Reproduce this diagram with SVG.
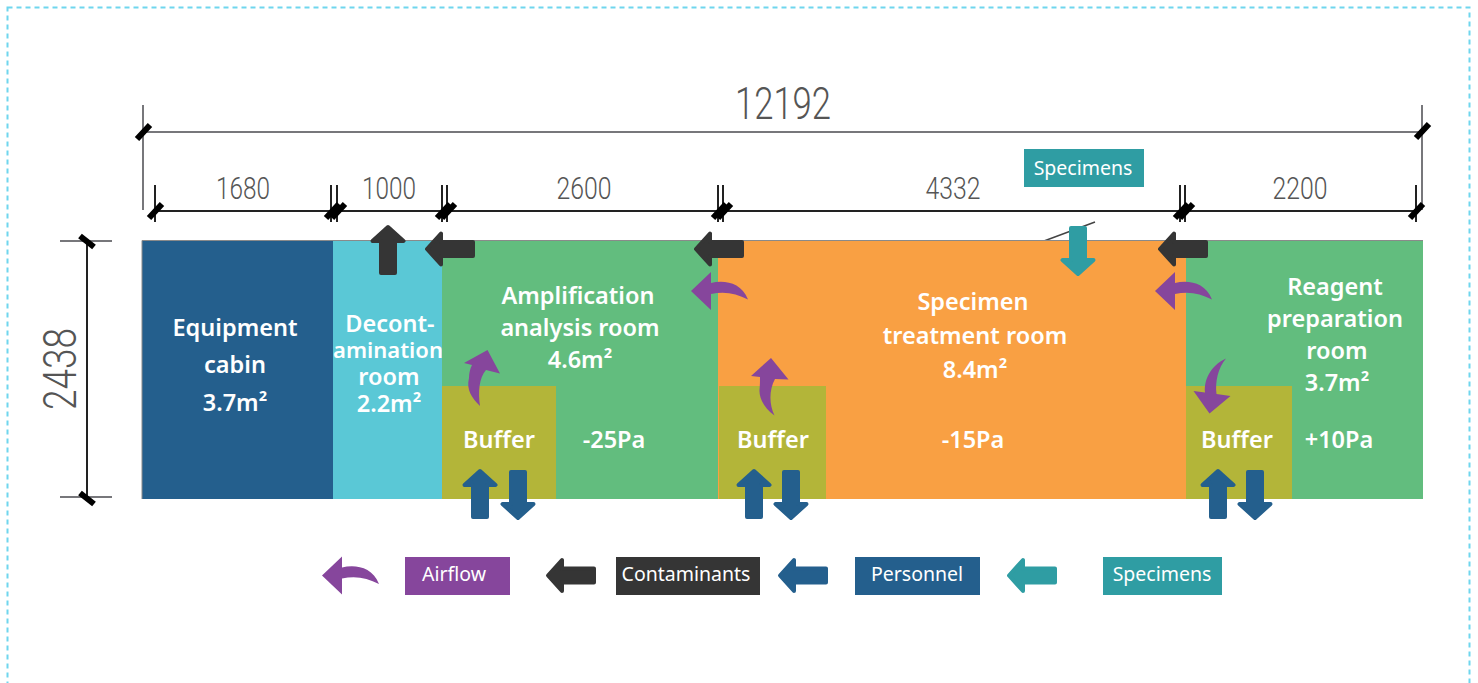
<svg xmlns="http://www.w3.org/2000/svg" width="1478" height="683" viewBox="0 0 1478 683">
<style>
.t{font-family:"Noto Sans",Lato,sans-serif;fill:#fff;text-anchor:middle}
.r{font-size:23.500px;font-weight:600}
.n{font-size:22px;font-weight:600}
.l{font-size:19.500px;font-weight:400}
.d{font-family:Roboto,"Liberation Sans",sans-serif;font-weight:300;fill:#555;text-anchor:middle}
.g{stroke:#77777b;stroke-width:2;fill:none}
.k{stroke:#222;stroke-width:2;fill:none}
.s{stroke:#000;stroke-width:6;fill:none}
.dark{fill:#353535;stroke:#353535}
.blue{fill:#245f8d;stroke:#245f8d}
.teal{fill:#2f9da3;stroke:#2f9da3}
.ar{stroke-width:4;stroke-linejoin:round}
.pu{fill:#86469c}
</style>
<defs>
<path id="a" d="M2,0 L16,-15.500 V-7 H48 V7 H16 V15.500 Z"/>
<path id="c" d="M0,0 L20,-19 V-8 C33,-11 50,-9 57,8.500 C45,2 33,0 20,3 V19 Z"/>
</defs>
<rect x="7.500" y="7.500" width="1462" height="700" fill="none" stroke="#6fd6ee" stroke-width="2" stroke-dasharray="5 4"/>
<g id="dimensions">
<path class="g" d="M143,105V210M1422,105V210M143,132H1422M60,241H112M60,497H112"/>
<path class="k" d="M155,211H1416M155,185V222M331,185V222M337,185V222M442,185V222M447,185V222M718,185V222M723,185V222M1180,185V222M1185,185V222M1416,185V222M87,241V497"/>
<path class="s" d="M137,139L150,125M1416,138L1429,124M149,218L162,204M326,218L339,204M332,218L345,204M437,218L450,204M442,218L455,204M713,218L726,204M718,218L731,204M1175,218L1188,204M1180,218L1193,204M1410,218L1423,204M80,236L94,247M80,493L94,504"/>
<path d="M1044,241L1095,222M1044,241H1097" stroke="#444" stroke-width="1.500" fill="none"/>
<text class="d" x="783" y="119" font-size="44" textLength="96" lengthAdjust="spacingAndGlyphs">12192</text>
<text class="d" x="243" y="199" font-size="32" textLength="54" lengthAdjust="spacingAndGlyphs">1680</text>
<text class="d" x="389" y="199" font-size="32" textLength="54" lengthAdjust="spacingAndGlyphs">1000</text>
<text class="d" x="584" y="199" font-size="32" textLength="55" lengthAdjust="spacingAndGlyphs">2600</text>
<text class="d" x="953" y="199" font-size="32" textLength="55" lengthAdjust="spacingAndGlyphs">4332</text>
<text class="d" x="1300" y="199" font-size="32" textLength="55" lengthAdjust="spacingAndGlyphs">2200</text>
<text class="d" x="0" y="0" font-size="46" textLength="82" lengthAdjust="spacingAndGlyphs" transform="translate(76 369) rotate(-90)">2438</text>
</g>
<g id="equipment-cabin">
<rect x="142" y="240" width="191" height="259" fill="#245f8d"/>
<text class="t r" x="235" y="336">Equipment</text><text class="t r" x="235" y="373">cabin</text><text class="t r" x="235" y="411">3.7m²</text>
</g>
<g id="decontamination-room">
<rect x="333" y="240" width="109" height="259" fill="#5ac8d6"/>
<text class="t r" x="390" y="332">Decont-</text><text class="t n" x="388" y="358">amination</text><text class="t r" x="389" y="385">room</text><text class="t r" x="389" y="412">2.2m²</text>
</g>
<g id="amplification-room">
<rect x="442" y="240" width="277" height="259" fill="#62bd7e"/>
<text class="t r" x="578" y="304">Amplification</text><text class="t r" x="580" y="336">analysis room</text><text class="t r" x="580" y="368">4.6m²</text>
<text class="t r" x="614" y="448">-25Pa</text>
</g>
<g id="specimen-room">
<rect x="718" y="240" width="468" height="259" fill="#f9a043"/>
<text class="t r" x="973" y="310">Specimen</text><text class="t r" x="975" y="344">treatment room</text><text class="t r" x="975" y="378">8.4m²</text>
<text class="t r" x="973" y="448">-15Pa</text>
</g>
<g id="reagent-room">
<rect x="1186" y="240" width="237" height="259" fill="#62bd7e"/>
<text class="t r" x="1335" y="295">Reagent</text><text class="t r" x="1335" y="327">preparation</text><text class="t r" x="1337" y="359">room</text><text class="t r" x="1337" y="391">3.7m²</text>
<text class="t r" x="1339" y="448">+10Pa</text>
</g>
<g id="buffer-1"><rect x="442" y="386" width="114" height="113" fill="#b3b539"/><text class="t r" x="499" y="448">Buffer</text></g>
<g id="buffer-2"><rect x="719" y="386" width="107" height="113" fill="#b3b539"/><text class="t r" x="773" y="448">Buffer</text></g>
<g id="buffer-3"><rect x="1186" y="386" width="106" height="113" fill="#b3b539"/><text class="t r" x="1237" y="448">Buffer</text></g>
<path id="outline" d="M142,499V240.500H1423" fill="none" stroke="#8a8a8a" stroke-width="1"/>
<g id="connectors">
<use href="#a" class="dark ar" transform="translate(388 225) rotate(90)"/>
<use href="#a" class="dark ar" transform="translate(425 249)"/>
<use href="#a" class="dark ar" transform="translate(694 249)"/>
<use href="#a" class="dark ar" transform="translate(1158 249)"/>
<use href="#a" class="teal ar" transform="translate(1078 276) rotate(-90)"/>
<use href="#a" class="blue ar" transform="translate(480 469) rotate(90)"/>
<use href="#a" class="blue ar" transform="translate(518 520) rotate(-90)"/>
<use href="#a" class="blue ar" transform="translate(754 469) rotate(90)"/>
<use href="#a" class="blue ar" transform="translate(791 520) rotate(-90)"/>
<use href="#a" class="blue ar" transform="translate(1218 469) rotate(90)"/>
<use href="#a" class="blue ar" transform="translate(1255 520) rotate(-90)"/>
<use href="#c" class="pu" transform="translate(691 291)"/>
<use href="#c" class="pu" transform="translate(1155 291)"/>
<path class="pu" d="M464,363L487.500,350L500,373.500L486,370C479,378 478,392 480,406C472,398 466,390 469,378C469,373 470,369 472,365Z"/>
<path class="pu" d="M751,376L771,358L788.500,379.500L775,379C769,390 769,404 774.500,415.500C764,408 759,398 759.500,390C760,385 760,381 760,377Z"/>
<path class="pu" d="M1193.500,391L1205,392.500C1204,380 1210,366 1226,358.500C1218,368 1215,382 1216.500,394L1230.500,396L1209.500,413.500Z"/>
</g>
<g id="legend">
<use href="#c" class="pu" transform="translate(322 575.500)"/>
<g id="legend-airflow"><rect x="405" y="557" width="105" height="38" fill="#86469c"/><text class="t l" x="454" y="581">Airflow</text></g>
<use href="#a" class="dark ar" transform="translate(546 575.500)"/>
<g id="legend-contaminants"><rect x="616" y="557" width="144" height="38" fill="#353535"/><text class="t l" x="686" y="581">Contaminants</text></g>
<use href="#a" class="blue ar" transform="translate(778 575.500)"/>
<g id="legend-personnel"><rect x="855" y="557" width="125" height="38" fill="#245f8d"/><text class="t l" x="917" y="581">Personnel</text></g>
<use href="#a" class="teal ar" transform="translate(1007 575.500)"/>
<g id="legend-specimens"><rect x="1103" y="557" width="119" height="38" fill="#2f9da3"/><text class="t l" x="1162" y="581">Specimens</text></g>
<g id="label-specimens"><rect x="1024" y="149" width="120" height="38" fill="#2f9da3"/><text class="t l" x="1083" y="175">Specimens</text></g>
</g>
</svg>
